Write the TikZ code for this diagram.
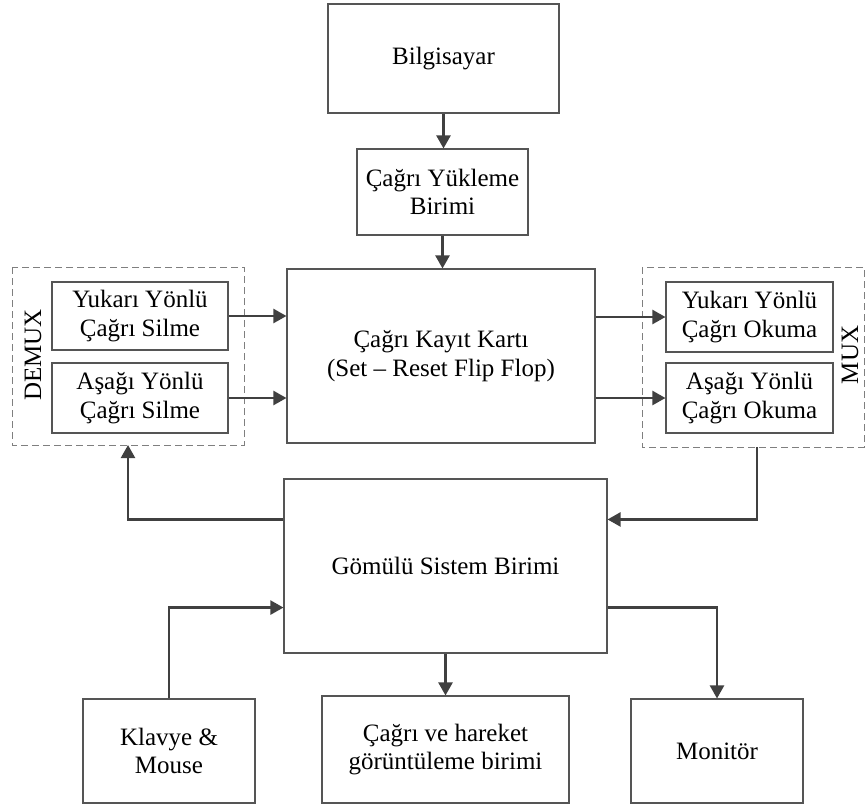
\documentclass[tikz,border=0pt]{standalone}
\usepackage{fontspec}
\setmainfont{Liberation Serif}
\usetikzlibrary{arrows.meta,calc}
\definecolor{boxline}{HTML}{555555}
\definecolor{arrline}{HTML}{404040}
\definecolor{dashline}{HTML}{7F7F7F}
\tikzset{
  blk/.style={draw=boxline, line width=1.1pt, align=center, inner sep=0pt,
    font=\fontsize{25}{28.5}\selectfont, text=black},
  grp/.style={draw=dashline, line width=1pt, dash pattern=on 7pt off 4pt, inner sep=0pt},
  arr/.style={draw=arrline, line width=2.3pt, -{Triangle[length=13pt,width=14pt]}},
  lbl/.style={font=\fontsize{25}{28.5}\selectfont, inner sep=0pt}
}
\newcommand{\bx}[6]{\node[blk, minimum width=#4pt-#2pt, minimum height=#5pt-#3pt] (#1) at ({(#2+#4)/2},{(#3+#5)/2}) {#6};}
\begin{document}
\begin{tikzpicture}[x=1pt,y=-1pt]
\useasboundingbox (0,0) rectangle (866,804);
% dashed groups
\draw[grp] (12,267) rectangle (244,445);
\draw[grp] (642,267) rectangle (864,447);
\coordinate (demuxbot) at (128,445);
\coordinate (muxbot) at (757,447);
% boxes
\bx{bil}{328}{4}{559}{113}{Bilgisayar}
\bx{yuk}{357}{149}{528}{235}{Çağrı Yükleme\\Birimi}
\bx{kay}{287}{269}{595}{443}{Çağrı Kayıt Kartı\\(Set – Reset Flip Flop)}
\bx{ys}{52}{282}{228}{350}{Yukarı Yönlü\\Çağrı Silme}
\bx{as}{52}{363}{228}{433}{Aşağı Yönlü\\Çağrı Silme}
\bx{yo}{666}{282}{833}{352}{Yukarı Yönlü\\Çağrı Okuma}
\bx{ao}{666}{363}{833}{433}{Aşağı Yönlü\\Çağrı Okuma}
\bx{gom}{284}{479}{607}{653}{Gömülü Sistem Birimi}
\bx{kla}{83}{699}{255}{803}{Klavye \&\\Mouse}
\bx{cag}{322}{696}{569}{803}{Çağrı ve hareket\\görüntüleme birimi}
\bx{mon}{631}{699}{803}{803}{Monitör}
% labels
\node[lbl, rotate=90] (demux) at (33,355) {DEMUX};
\node[lbl, rotate=90] (mux) at (850,355) {MUX};
% connectors
\draw[arr] (bil.south) -- (bil.south |- yuk.north);
\draw[arr] (yuk.south) -- (yuk.south |- kay.north);
\draw[arr] (ys.east) -- (ys.east -| kay.west);
\draw[arr] (as.east) -- (as.east -| kay.west);
\draw[arr] (kay.east |- yo.west) -- (yo.west);
\draw[arr] (kay.east |- ao.west) -- (ao.west);
\coordinate (gl1) at ($(gom.north west)+(0,41)$);
\coordinate (gr1) at ($(gom.north east)+(0,41)$);
\coordinate (gl2) at ($(gom.south west)+(0,-46)$);
\coordinate (gr2) at ($(gom.south east)+(0,-46)$);
\draw[arr] (gl1) -| (demuxbot);
\draw[arr] (muxbot) |- (gr1);
\draw[arr] (kla.north) |- (gl2);
\draw[arr] (gr2) -| (mon.north);
\draw[arr] (gom.south) -- (gom.south |- cag.north);
\end{tikzpicture}
\end{document}
